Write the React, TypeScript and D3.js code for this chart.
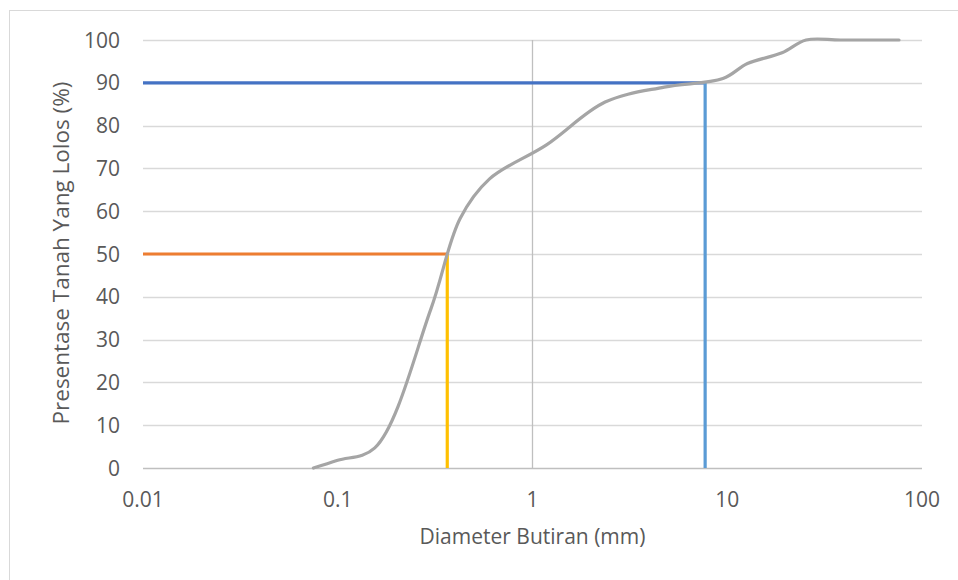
import React, { useEffect, useRef } from "react";
import * as d3 from "d3";

// sieve sizes (mm) and percent passing
const diameters = [0.075, 0.1, 0.155, 0.3, 0.425, 0.6, 1.18, 2.36, 4.75, 9.5, 12.7, 19.1, 25.4, 38.1, 76.2];
const passing = [0, 1.8, 4.7, 37, 58.3, 67.5, 75.5, 85.5, 89, 91, 94.5, 97, 100, 100, 100];

const xTicks = [0.01, 0.1, 1, 10, 100];
const yTicks = [0, 10, 20, 30, 40, 50, 60, 70, 80, 90, 100];

// D50 / D90 reading lines
const d50 = { d: 0.365, p: 50 };
const d90 = { d: 7.7, p: 90 };

export default function App() {
    const svgRef = useRef<SVGSVGElement>(null);

    useEffect(() => {
        const width = 958;
        const height = 580;
        const margin = { top: 40, right: 36, bottom: 112, left: 143 };
        const innerW = width - margin.left - margin.right;
        const innerH = height - margin.top - margin.bottom;
        const font = "'Open Sans', sans-serif";
        const textColor = "#595959";

        const svg = d3.select(svgRef.current);
        svg.selectAll("*").remove();
        svg.attr("width", width).attr("height", height);

        svg.append("rect")
            .attr("x", 9.5)
            .attr("y", 10.5)
            .attr("width", 970)
            .attr("height", 600)
            .attr("fill", "#fff")
            .attr("stroke", "#d9d9d9");

        const g = svg.append("g").attr("transform", `translate(${margin.left},${margin.top})`);

        const x = d3.scaleLog().domain([0.01, 100]).range([0, innerW]);
        const y = d3.scaleLinear().domain([0, 100]).range([innerH, 0]);

        // gridlines
        g.selectAll(".grid")
            .data(yTicks)
            .enter()
            .append("line")
            .attr("x1", 0)
            .attr("x2", innerW)
            .attr("y1", (d) => Math.round(y(d)) + 0.5)
            .attr("y2", (d) => Math.round(y(d)) + 0.5)
            .attr("stroke", (d) => (d === 0 ? "#bfbfbf" : "#d9d9d9"))
            .attr("stroke-width", 1.3);

        // vertical axis crossing at 1
        g.append("line")
            .attr("x1", Math.round(x(1)) + 0.5)
            .attr("x2", Math.round(x(1)) + 0.5)
            .attr("y1", 0)
            .attr("y2", innerH)
            .attr("stroke", "#bfbfbf")
            .attr("stroke-width", 1.3);

        // tick labels
        g.selectAll(".ylab")
            .data(yTicks)
            .enter()
            .append("text")
            .attr("x", -23)
            .attr("y", (d) => y(d))
            .attr("dy", "0.36em")
            .attr("text-anchor", "end")
            .style("font-family", font)
            .style("font-size", "21px")
            .attr("fill", textColor)
            .text((d) => d);

        g.selectAll(".xlab")
            .data(xTicks)
            .enter()
            .append("text")
            .attr("x", (d) => x(d))
            .attr("y", innerH + 39)
            .attr("text-anchor", "middle")
            .style("font-family", font)
            .style("font-size", "21px")
            .attr("fill", textColor)
            .text((d) => String(d));

        // axis titles
        g.append("text")
            .attr("x", x(1))
            .attr("y", innerH + 76)
            .attr("text-anchor", "middle")
            .style("font-family", font)
            .style("font-size", "21px")
            .attr("fill", textColor)
            .text("Diameter Butiran (mm)");

        g.append("text")
            .attr("transform", "rotate(-90)")
            .attr("x", -innerH / 2 + 1)
            .attr("y", -74)
            .attr("text-anchor", "middle")
            .style("font-family", font)
            .style("font-size", "22.5px")
            .attr("fill", textColor)
            .text("Presentase Tanah Yang Lolos (%)");

        // reading lines
        const lines = [
            { x1: 0.01, y1: d50.p, x2: d50.d, y2: d50.p, c: "#ED7D31" },
            { x1: d50.d, y1: d50.p, x2: d50.d, y2: 0, c: "#FFC000" },
            { x1: 0.01, y1: d90.p, x2: d90.d, y2: d90.p, c: "#4472C4" },
            { x1: d90.d, y1: d90.p, x2: d90.d, y2: 0, c: "#5B9BD5" },
        ];
        g.selectAll(".ref")
            .data(lines)
            .enter()
            .append("line")
            .attr("x1", (d) => x(d.x1))
            .attr("x2", (d) => x(d.x2))
            .attr("y1", (d) => y(d.y1))
            .attr("y2", (d) => y(d.y2))
            .attr("stroke", (d) => d.c)
            .attr("stroke-width", 3.2);

        // grading curve
        const pts: [number, number][] = diameters.map((d, i) => [d, passing[i]]);
        const line = d3
            .line<[number, number]>()
            .x((d) => x(d[0]))
            .y((d) => y(d[1]))
            .curve(d3.curveCatmullRom.alpha(0.5));

        g.append("path")
            .datum(pts)
            .attr("d", line)
            .attr("fill", "none")
            .attr("stroke", "#A5A5A5")
            .attr("stroke-width", 3.2)
            .attr("stroke-linecap", "round");
    }, []);

    return <svg ref={svgRef} style={{ position: "absolute", left: 0, top: 0 }} />;
}
